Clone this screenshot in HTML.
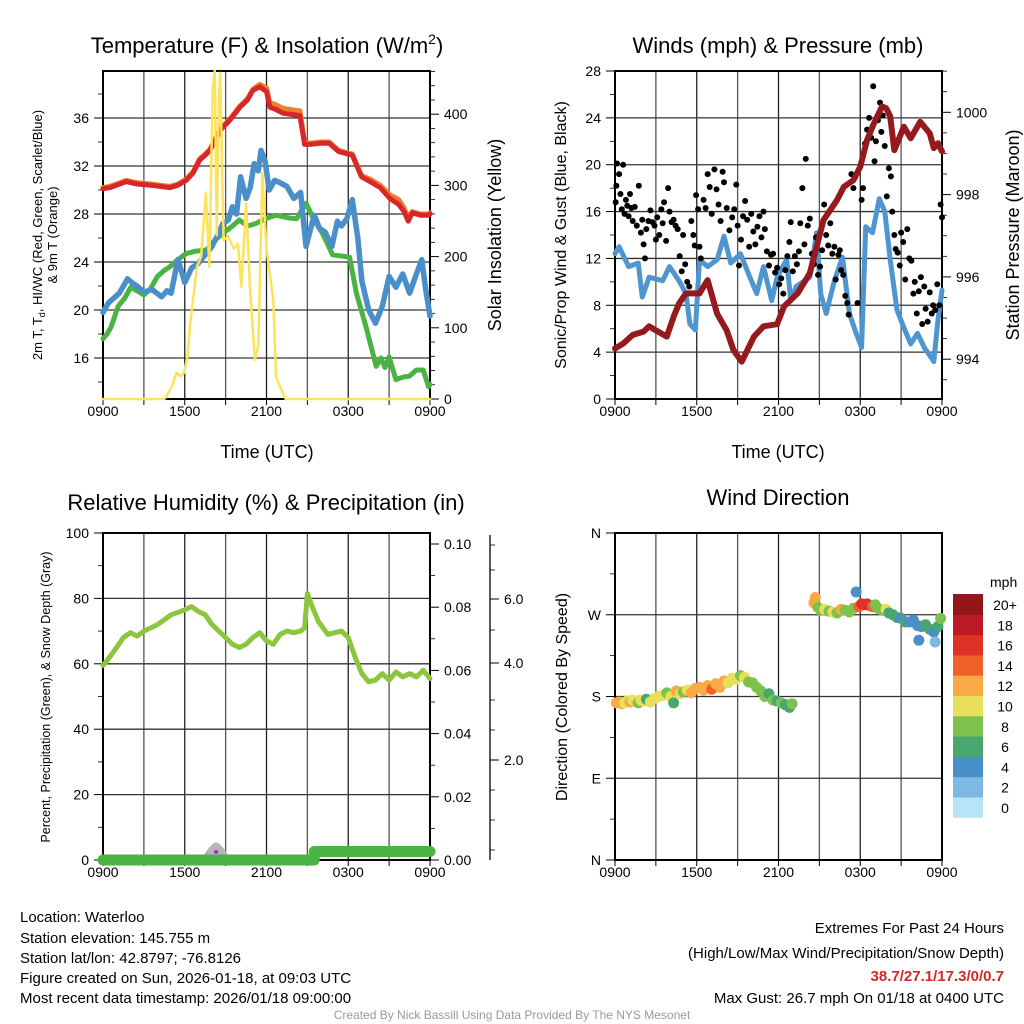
<!DOCTYPE html>
<html><head><meta charset="utf-8"><style>
html,body{margin:0;padding:0;background:#fff;}
svg{display:block;font-family:"Liberation Sans",sans-serif;}
</style></head><body>
<svg id="chart" width="1024" height="1024" viewBox="0 0 1024 1024">
<rect width="1024" height="1024" fill="#fff"/>
<g id="static" font-family="Liberation Sans, sans-serif">
<text x="267" y="53" font-size="22" text-anchor="middle">Temperature (F) &amp; Insolation (W/m<tspan font-size="14" dy="-9">2</tspan><tspan dy="9">)</tspan></text>
<text x="778" y="53" font-size="22" text-anchor="middle">Winds (mph) &amp; Pressure (mb)</text>
<text x="266" y="510" font-size="22" text-anchor="middle">Relative Humidity (%) &amp; Precipitation (in)</text>
<text x="778" y="505" font-size="22" text-anchor="middle">Wind Direction</text>
<text x="267" y="458" font-size="18" text-anchor="middle">Time (UTC)</text>
<text x="778" y="458" font-size="18" text-anchor="middle">Time (UTC)</text>
<text transform="translate(42,235) rotate(-90)" font-size="13" text-anchor="middle">2m T, T<tspan font-size="9" dy="3">d</tspan><tspan dy="-3">, HI/WC (Red, Green, Scarlet/Blue)</tspan></text>
<text transform="translate(57,235) rotate(-90)" font-size="13" text-anchor="middle">&amp; 9m T (Orange)</text>
<text transform="translate(501,235) rotate(-90)" font-size="18" text-anchor="middle">Solar Insolation (Yellow)</text>
<text transform="translate(566,235) rotate(-90)" font-size="16" text-anchor="middle">Sonic/Prop Wind &amp; Gust (Blue, Black)</text>
<text transform="translate(1019,235) rotate(-90)" font-size="18" text-anchor="middle">Station Pressure (Maroon)</text>
<text transform="translate(50,697) rotate(-90)" font-size="12.5" text-anchor="middle">Percent, Precipitation (Green), &amp; Snow Depth (Gray)</text>
<text transform="translate(567,697) rotate(-90)" font-size="16" text-anchor="middle">Direction (Colored By Speed)</text>
<g font-size="15">
<text x="20" y="922">Location: Waterloo</text>
<text x="20" y="943">Station elevation: 145.755 m</text>
<text x="20" y="963">Station lat/lon: 42.8797; -76.8126</text>
<text x="20" y="983">Figure created on Sun, 2026-01-18, at 09:03 UTC</text>
<text x="20" y="1003">Most recent data timestamp: 2026/01/18 09:00:00</text>
</g>
<g font-size="15" text-anchor="end">
<text x="1004" y="933">Extremes For Past 24 Hours</text>
<text x="1004" y="958">(High/Low/Max Wind/Precipitation/Snow Depth)</text>
<text x="1004" y="981" fill="#d7262a" font-weight="bold">38.7/27.1/17.3/0/0.7</text>
<text x="1004" y="1003">Max Gust: 26.7 mph On 01/18 at 0400 UTC</text>
</g>
<text x="512" y="1019" font-size="12" fill="#999" text-anchor="middle">Created By Nick Bassill Using Data Provided By The NYS Mesonet</text>
</g>
<g id="dyn"></g>
</svg>
<script>
// ---- data (hours since 0900 UTC) ----
const timeTickLabels = ["0900","1500","2100","0300","0900"];
const tempTicks = [16,20,24,28,32,36];
const solarTicks = [0,100,200,300,400];
const windTicks = [0,4,8,12,16,20,24,28];
const presTicks = [994,996,998,1000];
const rhTicks = [0,20,40,60,80,100];
const precipTicks = ["0.00","0.02","0.04","0.06","0.08","0.10"];
const snowTicks = ["2.0","4.0","6.0"];
const dirLabels = ["N","E","S","W","N"];
const speedBins = ["0","2","4","6","8","10","12","14","16","18","20+"];

const tempT = [0,0.5,1,1.7,2.5,3.5,4.2,4.9,5.5,6.1,6.6,7.1,7.5,7.85,8.3,8.7,9.3,10.05,10.6,11,11.5,12,12.25,12.7,13.2,13.8,14.45,14.8,15.2,16,16.6,17.3,18.3,18.97,19.6,20.35,21.05,21.7,22.1,22.4,22.7,23.3,23.9,24];
const tempRed = [30.1,30.2,30.4,30.7,30.5,30.4,30.3,30.2,30.4,30.8,31.4,32.5,32.9,33.3,34.3,35.1,35.8,36.9,37.5,38.3,38.6,38.2,36.9,36.7,36.4,36.3,36.2,33.8,33.8,33.9,33.9,33.2,32.9,31.1,30.7,30.2,29.3,28.8,28.2,27.4,28.1,27.9,27.9,28.0];
const tempOrange = [30.2,30.3,30.5,30.8,30.6,30.5,30.4,30.3,30.5,30.9,31.5,32.6,33.0,33.4,34.4,35.2,35.9,37.0,37.6,38.4,38.8,38.5,37.3,37.1,36.8,36.7,36.6,34.0,33.9,34.0,34.0,33.3,33.0,31.2,30.9,30.4,29.6,29.2,28.5,27.7,28.2,28.0,28.0,28.1];
const dewT = [0,0.3,0.6,1.1,1.6,2.05,2.5,3,3.5,4,4.5,4.9,5.5,6.1,6.8,7.6,8.2,8.8,9.4,10,10.6,11.2,11.9,12.7,13.5,14.2,14.9,15.5,16.1,16.85,17.5,18.1,18.6,19.3,20.05,20.4,20.7,21,21.5,22,22.5,23,23.5,23.9,24];
const dewV = [17.6,18.0,18.6,20.3,21.0,21.9,21.6,21.25,21.8,22.8,23.3,23.6,24.2,24.7,24.9,25.0,25.8,26.4,26.9,27.5,27.0,27.2,27.6,27.9,27.7,27.6,28.9,27.5,26.4,24.6,24.5,24.4,21.4,18.6,15.3,16.0,15.2,16.1,14.2,14.4,14.5,15.0,15.0,13.6,13.8];
const hiT = [0,0.4,0.8,1.2,1.8,2.2,2.5,3,3.6,4.3,4.7,5,5.5,6,6.5,7,7.5,8,8.4,8.8,9.2,9.5,9.8,10.1,10.5,10.8,11.1,11.4,11.6,11.9,12.2,12.6,13,13.5,14,14.5,14.9,15.5,15.9,16.3,16.8,17.2,17.5,17.9,18.3,18.7,19,19.5,20,20.5,21,21.5,22,22.5,23,23.4,23.7,24];
const hiV = [19.8,20.6,21.0,21.4,22.6,22.2,22.0,21.5,21.7,21.1,21.6,21.4,24.2,22.3,23.5,23.9,24.6,25.3,26.2,27.2,27.5,28.6,28.0,31.1,29.3,30.2,32.2,31.6,33.3,32.4,30.0,30.8,30.6,30.3,29.3,29.8,25.3,27.9,26.8,26.5,25.3,27.4,27.0,27.6,29.2,26.0,22.4,20.0,18.9,20.3,22.8,21.9,23.0,21.4,23.0,24.2,21.6,19.5];
const solarT = [0,4.5,4.7,5.1,5.4,5.7,5.95,6.2,6.4,6.9,7.2,7.55,7.8,8.05,8.2,8.35,8.5,8.6,8.85,9.2,9.6,9.9,10.15,10.5,10.8,11.15,11.4,11.7,12,12.5,12.7,13,13.4,24];
const solarV = [0,0,5,20,37,32,37,60,106,186,200,289,186,434,462,230,420,458,223,229,211,218,158,275,150,55,75,317,211,139,31,17,0,0];
const windT = [0,0.3,1,1.7,2,2.5,3.5,4,4.7,5.2,5.5,5.9,6.2,6.8,7.5,8,8.5,9.2,9.9,10.4,10.9,11.5,11.9,12.6,12.9,13.3,14.3,14.8,15.1,15.5,16.1,16.7,17.2,17.7,18.1,18.4,18.9,19.4,19.8,20.2,20.7,21.2,21.7,22.2,22.7,23.4,23.7,24];
const windV = [12.4,13.0,11.3,11.6,8.7,10.4,10.1,11.3,10.1,9.0,6.4,5.9,11.9,11.3,11.9,13.9,11.6,12.4,10.4,9.0,11.3,8.4,10.4,11.9,8.4,9.6,10.4,14.2,9.0,7.3,10.1,12.1,7.3,5.6,4.4,14.7,14.2,17.1,16.0,11.9,7.6,6.1,4.7,5.6,4.4,3.2,6.7,9.3];
const presT = [0,0.6,1.3,2.1,2.5,3,3.8,4.3,4.7,5.2,6.2,6.8,7.5,8.2,8.7,9.3,10.2,10.9,11.9,12.4,13.4,14.3,14.8,15.3,16.3,16.8,17.5,18,18.5,19,19.6,19.9,20.2,20.5,21.2,21.7,22.4,23.1,23.4,23.7,24];
const presV = [994.26,994.38,994.59,994.67,994.8,994.7,994.55,995.03,995.35,995.6,995.6,995.92,995.1,994.7,994.22,993.94,994.55,994.8,994.85,995.28,995.6,996.09,996.73,997.38,997.87,998.19,998.35,998.68,999.33,999.73,1000.14,1000.1,999.9,999.08,999.65,999.37,999.77,999.49,999.13,999.25,999.05];
const gustT = [0.05,0.1,0.15,0.3,0.4,0.5,0.6,0.7,0.8,0.9,1.0,1.1,1.2,1.3,1.45,1.6,1.75,1.9,2.0,2.1,2.2,2.3,2.45,2.6,2.75,2.9,3.0,3.1,3.25,3.4,3.5,3.6,3.75,3.9,4.0,4.15,4.3,4.45,4.6,4.75,4.9,5.0,5.15,5.3,5.45,5.6,5.75,5.85,5.95,6.1,6.2,6.3,6.5,6.65,6.8,6.95,7.1,7.3,7.45,7.6,7.75,7.9,8.0,8.2,8.4,8.6,8.75,8.9,9.0,9.1,9.25,9.4,9.55,9.7,9.85,10.0,10.15,10.3,10.45,10.6,10.75,10.9,11.0,11.15,11.3,11.45,11.6,11.75,11.9,12.05,12.2,12.35,12.5,12.65,12.8,12.9,13.05,13.2,13.35,13.5,13.6,13.75,13.9,14.0,14.15,14.3,14.45,14.6,14.75,14.9,15.05,15.2,15.35,15.5,15.65,15.8,15.95,16.1,16.2,16.4,16.5,16.6,16.75,16.9,17.05,17.15,17.35,17.5,17.6,17.8,18.1,18.2,18.35,18.5,18.65,18.8,18.95,19.05,19.15,19.3,19.45,19.55,19.65,19.8,19.95,20.1,20.25,20.35,20.5,20.6,20.75,20.9,21.0,21.15,21.3,21.45,21.6,21.75,21.9,22.0,22.15,22.3,22.45,22.55,22.7,22.8,22.95,23.1,23.25,23.35,23.5,23.65,23.8,23.9,24.0];
const gustV = [16.8,18.2,20.1,19.2,17.5,16.2,20.0,15.8,17.0,16.5,15.6,17.5,16.3,15.2,16.4,14.8,18.2,14.2,15.3,13.2,12.0,14.5,15.2,16.1,15.1,14.8,13.6,15.5,14.0,16.2,15.0,16.8,13.5,18.0,16.0,15.1,15.3,14.8,14.5,12.2,10.9,14.0,11.5,10.0,9.6,15.2,14.0,13.1,17.4,16.2,13.0,12.0,17.0,16.3,19.2,18.1,15.8,19.6,17.9,16.6,15.2,19.4,18.5,16.3,14.4,15.5,16.2,18.3,14.8,11.4,13.6,15.6,16.9,15.3,13.0,15.8,14.3,13.2,14.7,15.6,13.8,16.0,14.5,12.6,11.4,12.3,12.4,10.8,11.2,9.8,10.3,9.0,11.0,12.2,13.4,15.1,10.9,12.2,11.5,12.6,15.0,18.0,13.2,20.5,14.8,15.4,12.4,11.5,13.8,10.6,11.3,12.7,16.6,14.0,13.1,15.0,12.4,13.0,10.2,12.3,12.7,11.0,10.6,8.8,8.2,7.2,19.2,18.0,18.9,8.2,17.0,18.0,21.8,23.0,24.0,22.3,26.7,20.3,22.0,23.8,25.3,22.8,24.2,21.6,17.3,19.7,19.0,16.0,14.0,12.8,12.5,11.4,14.2,13.4,10.2,14.5,12.0,11.8,9.0,10.0,7.3,9.2,10.4,6.4,9.6,7.7,6.6,9.1,7.3,8.0,7.6,9.8,8.0,16.6,15.5];
const rhT = [0,0.3,1,1.5,2,2.5,3,4,5,6,6.5,7,7.5,8,8.5,9,9.5,10,10.5,11,11.5,12,12.5,13,13.5,14,14.5,14.8,15,15.3,15.8,16.5,17,17.5,18,18.5,19,19.5,20,20.5,21,21.5,22,22.5,23,23.5,24];
const rhV = [59.5,61,65,68,69.5,68.5,70,72,75,76.5,77.5,76,75,72,70,68,66,65,66,68,69.5,67,66,69,70,69.5,70,71,81.5,78,73,69,69.5,70,68,62,57,54.5,55,57,55,57.5,56,57,56,58,55.5];
const precipT = [0,15.5,15.5,24];
const precipV = [0,0,0.0027,0.0027];
const snowT = [0,7.6,8.0,8.3,8.6,9.0,15.4];
const snowV = [0,0,0.2,0.3,0.2,0,0];
const dirT = [0.1,0.3,0.5,0.7,0.9,1.1,1.3,1.5,1.7,1.9,2.1,2.3,2.6,2.9,3.2,3.5,3.8,4.1,4.3,4.5,4.8,5.0,5.3,5.6,5.9,6.2,6.5,6.8,7.1,7.4,7.7,8.0,8.3,8.6,8.9,9.2,9.5,9.8,10.1,10.4,10.7,11.0,11.3,11.6,11.9,12.2,12.5,12.8,13.0,14.6,14.7,14.9,15.1,15.4,15.7,16.0,16.3,16.6,16.9,17.2,17.5,17.7,17.9,18.1,18.3,18.5,18.7,18.9,19.1,19.3,19.6,19.9,20.1,20.4,20.7,21.0,21.3,21.6,21.9,22.2,22.3,22.5,22.8,23.1,23.4,23.5,23.7,23.9];
const dirV = [173,174,172,173,175,174,176,175,173,176,175,177,174,178,180,181,184,180,173,186,183,185,187,184,189,190,187,192,188,194,190,197,195,200,199,203,201,196,195,190,186,180,183,176,175,173,171,168,172,283,289,278,275,276,274,273,272,276,275,273,277,295,279,282,281,282,280,279,281,277,275,276,272,270,267,266,262,262,264,258,242,257,259,254,251,240,257,266];
const dirS = [12,12,13,11,10,12,10,10,9,10,10,7,10,10,11,10,9,10,6,12,10,8,10,12,12,12,13,12,14,12,13,12,11,10,10,9,10,8,8,8,9,8,7,8,7,8,7,7,8,13,12,8,9,10,8,11,9,12,8,9,8,4,14,16,16,17,16,15,8,9,8,10,6,7,6,5,6,4,5,4,4,4,6,7,4,3,7,8];

// ---- helpers ----
const NS = "http://www.w3.org/2000/svg";
const root = document.getElementById("dyn");
function mk(tag, attrs, parent) {
  const e = document.createElementNS(NS, tag);
  for (const k in attrs) e.setAttribute(k, attrs[k]);
  (parent || root).appendChild(e);
  return e;
}
function xScale(x0, x1) { return h => x0 + h * (x1 - x0) / 24; }
function linear(v0, y0, v1, y1) { return v => y0 + (v - v0) * (y1 - y0) / (v1 - v0); }
function pathD(ts, vs, xf, yf) {
  return ts.map((t, i) => (i ? "L" : "M") + xf(t).toFixed(1) + "," + yf(vs[i]).toFixed(1)).join(" ");
}
function binColor(s) {
  const cols = ["#b9e3f7","#7db9e3","#4a90c8","#48a66f","#7dc24e","#e8e05a","#f9a946","#f06129","#df3127","#bc1b25","#931619"];
  let i = Math.floor(s / 2);
  if (i > 10) i = 10;
  if (i < 0) i = 0;
  return cols[i];
}

function drawFrame(name, x0, x1, yT, yB, hLines, xLabels) {
  const g = mk("g", {});
  
  
  for (let k = 0; k <= 8; k++) {
    const x = x0 + k * (x1 - x0) / 8;
    const l = mk("line", {x1: x, x2: x, y1: yT, y2: yB, stroke: k % 2 ? "#555" : "#222", "stroke-width": 1.3}, g);
    
    
    const t = mk("line", {x1: x, x2: x, y1: yB, y2: yB + 6, stroke: "#000", "stroke-width": 1}, g);
    
    
  }
  hLines.forEach(y => {
    const l = mk("line", {x1: x0, x2: x1, y1: y, y2: y, stroke: "#333", "stroke-width": 1.3}, g);
    
    
  });
  const r = mk("rect", {x: x0, y: yT, width: x1 - x0, height: yB - yT, fill: "none", stroke: "#000", "stroke-width": 2}, g);
  
  
  timeTickLabels.forEach((lab, k) => {
    const tx = mk("text", {x: x0 + k * (x1 - x0) / 4, y: yB + 17, "font-size": 14, "text-anchor": "middle"}, g);
    tx.textContent = lab;
    
    
  });
  return g;
}
function yTicks(name, axisX, vals, yf, labels, side, minor) {
  vals.forEach((v, i) => {
    const y = yf(v);
    const d = side === "left" ? -9 : 9;
    const l = mk("line", {x1: axisX, x2: axisX + d, y1: y, y2: y, stroke: "#000", "stroke-width": 1});
    
    
    const t = mk("text", {x: side === "left" ? axisX - 14 : axisX + 14, y: y + 5, "font-size": 14, "text-anchor": side === "left" ? "end" : "start"});
    t.textContent = labels[i];
    
    
  });
  (minor || []).forEach(v => {
    const y = yf(v);
    const d = side === "left" ? -5 : 5;
    const l = mk("line", {x1: axisX, x2: axisX + d, y1: y, y2: y, stroke: "#000", "stroke-width": 0.8});
    
    
  });
}
function line(name, ts, vs, xf, yf, color, w) {
  const p = mk("path", {d: pathD(ts, vs, xf, yf), fill: "none", stroke: color, "stroke-width": w, "stroke-linejoin": "round", "stroke-linecap": "round"});
  
  
  return p;
}

// ---- Panel 1: temperature ----
const x1f = xScale(103, 430);
const tY = linear(16, 358, 36, 118);
const sY = linear(0, 399, 400, 114.2);
drawFrame("temp", 103, 430, 71, 399, tempTicks.map(tY), timeTickLabels);
yTicks("temp-y", 103, tempTicks, tY, tempTicks.map(String), "left", [14,18,22,26,30,34,38]);
yTicks("solar-y", 430, solarTicks, sY, solarTicks.map(String), "right", [20,40,60,80,120,140,160,180,220,240,260,280,320,340,360,380,420,440,460]);
line("green-dewpoint-line", dewT, dewV, x1f, tY, "#4bb343", 5);
line("blue-windchill-line", hiT, hiV, x1f, tY, "#4a8fca", 5.5);
line("orange-9m-temp-line", tempT, tempOrange, x1f, tY, "#f07f2a", 5);
line("red-2m-temp-line", tempT, tempRed, x1f, tY, "#d9262a", 5);
line("yellow-solar-line", solarT, solarV, x1f, sY, "#fde35a", 2.5);

// ---- Panel 2: winds ----
const x2f = xScale(615, 942);
const wY = linear(0, 399, 28, 71);
const pY = linear(1000, 112.3, 994, 359.2);
drawFrame("wind", 615, 942, 71, 399, [4,8,12,16,20,24].map(wY), timeTickLabels);
yTicks("wind-y", 615, windTicks, wY, windTicks.map(String), "left", [2,6,10,14,18,22,26]);
yTicks("pressure-y", 942, presTicks, pY, presTicks.map(String), "right", [993.5,994.5,995,995.5,996.5,997,997.5,998.5,999,999.5,1000.5,1001]);
line("blue-wind-speed-line", windT, windV, x2f, wY, "#4f96d0", 5);
gustT.forEach((t, i) => {
  const c = mk("circle", {cx: x2f(t), cy: wY(gustV[i]), r: 3, fill: "#000"});
  
  
});
line("maroon-pressure-line", presT, presV, x2f, pY, "#951a1d", 6);

// ---- Panel 3: humidity ----
const rY = linear(0, 860, 100, 533);
const prY = linear(0, 860, 0.1, 544);
drawFrame("rh", 103, 430, 533, 860, [20,40,60,80].map(rY), timeTickLabels);
yTicks("rh-y", 103, rhTicks, rY, rhTicks.map(String), "left", [10,30,50,70,90]);
yTicks("precip-y", 430, [0,0.02,0.04,0.06,0.08,0.1], prY, precipTicks, "right", [0.01,0.03,0.05,0.07,0.09]);
const snowAxis = mk("line", {x1: 490, x2: 490, y1: 535, y2: 860, stroke: "#000", "stroke-width": 1.3});


yTicks("snow-y", 490, [2,4,6], v => ({2:760,4:663,6:599})[v], snowTicks, "right", []);
[545,570,630,700,730,790,820,850].forEach(y => {
  const l = mk("line", {x1: 490, x2: 495, y1: y, y2: y, stroke: "#000", "stroke-width": 0.8});
  
  
});
line("gray-snow-depth-line", snowT, snowV, x1f, v => 859 - v * 40, "#b5b5b5", 9);
line("green-precip-line", precipT, precipV, x1f, prY, "#4bb343", 11);
const pd = mk("circle", {cx: x1f(8.3), cy: 852, r: 2, fill: "#a020f0"});


line("green-humidity-line", rhT, rhV, x1f, rY, "#8cc63f", 5);

// ---- Panel 4: direction ----
const dY = linear(0, 860, 360, 533);
drawFrame("dir", 615, 942, 533, 860, [90,180,270].map(dY), timeTickLabels);
yTicks("dir-y", 615, [0,90,180,270,360], dY, dirLabels, "left", [45,135,225,315]);
dirT.forEach((t, i) => {
  const c = mk("circle", {cx: x2f(t), cy: dY(dirV[i]), r: 5.5, fill: binColor(dirS[i])});
  
  
});
const cbG = mk("g", {});


const cbTitle = mk("text", {x: 990, y: 587, "font-size": 14}, cbG);
cbTitle.textContent = "mph";


speedBins.forEach((lab, i) => {
  const k = 10 - i;
  const y = 594 + k * 20.3;
  const r = mk("rect", {x: 953, y: y, width: 30, height: 20.8, fill: binColor(i * 2)}, cbG);
  
  
  const t = mk("text", {x: 1005, y: y + 16, "font-size": 14, "text-anchor": "middle"}, cbG);
  t.textContent = lab;
  
  
});
</script>
</body></html>
